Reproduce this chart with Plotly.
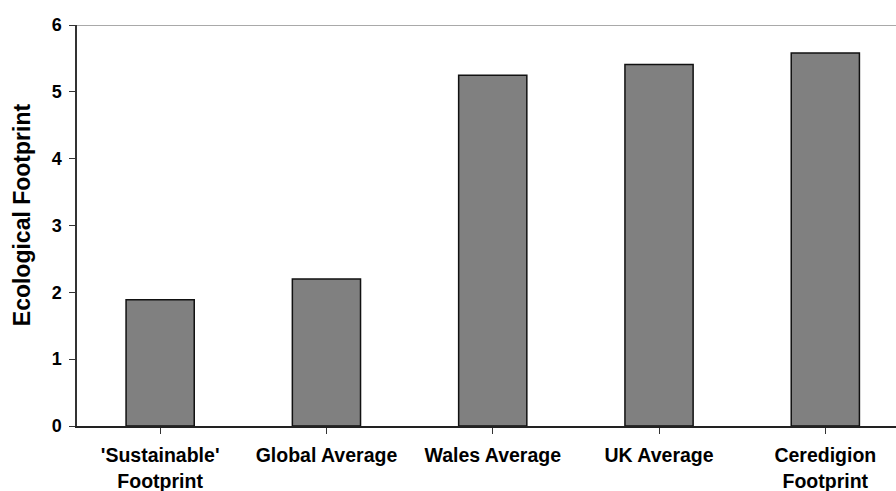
import plotly.graph_objects as go

categories = ["'Sustainable'<br>Footprint", "Global Average", "Wales Average",
              "UK Average", "Ceredigion<br>Footprint"]
footprint = [1.89, 2.20, 5.25, 5.41, 5.58]
y_ticks = [0, 1, 2, 3, 4, 5, 6]
y_title = "Ecological Footprint"

font_family = "Liberation Sans, Arial, sans-serif"

fig = go.Figure(
    go.Bar(
        x=list(range(len(categories))),
        y=footprint,
        width=0.41,
        marker=dict(color="#808080", line=dict(color="#111111", width=1.5)),
    )
)

fig.update_layout(
    width=896,
    height=491,
    margin=dict(l=77, r=0, t=25, b=65),
    paper_bgcolor="white",
    plot_bgcolor="white",
    showlegend=False,
    font=dict(family=font_family, color="black"),
)

fig.update_xaxes(
    range=[-0.5, 4.425],
    automargin=False,
    tickmode="array",
    tickvals=list(range(len(categories))),
    ticktext=[f"<b>{c}</b>" for c in categories],
    tickson="boundaries",
    ticks="outside",
    ticklen=6,
    tickwidth=1,
    tickcolor="#333333",
    ticklabelstandoff=5,
    showline=True,
    linecolor="#222222",
    linewidth=1.5,
    showgrid=False,
    zeroline=False,
    tickfont=dict(size=19.5, family=font_family),
)

fig.update_yaxes(
    range=[0, 6],
    automargin=False,
    tickmode="array",
    tickvals=y_ticks,
    ticktext=[f"<b>{v}</b>" for v in y_ticks],
    ticks="outside",
    ticklen=6,
    tickwidth=1,
    tickcolor="#333333",
    ticklabelstandoff=4,
    showline=True,
    linecolor="#333333",
    linewidth=1.5,
    showgrid=False,
    zeroline=False,
    tickfont=dict(size=18, family=font_family),
)

# Axis title placed as a rotated annotation left of the tick labels
fig.add_annotation(
    text=f"<b>{y_title}</b>",
    xref="paper", yref="paper",
    x=-0.067, y=0.526,
    xanchor="center", yanchor="middle",
    textangle=-90,
    showarrow=False,
    font=dict(size=23, family=font_family, color="black"),
)

# Thin grey border line along the top of the plot area
fig.add_shape(type="line", xref="paper", yref="y", x0=0, x1=1, y0=6, y1=6,
              line=dict(color="#8c8c8c", width=1.5))

fig.write_html("out.html")
